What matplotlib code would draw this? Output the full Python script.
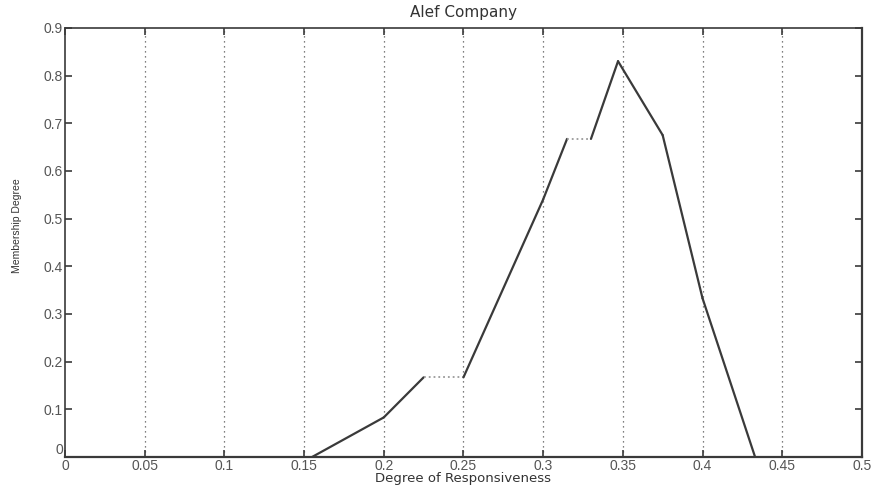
import matplotlib
matplotlib.use("Agg")
import matplotlib.pyplot as plt
import numpy as np

# membership function
x = [0.155, 0.2, 0.225, 0.25, 0.3, 0.315, 0.33, 0.347, 0.375, 0.4, 0.433]
y = [0.0, 0.083, 0.167, 0.167, 0.54, 0.667, 0.667, 0.83, 0.675, 0.333, 0.0]

xticks = [0, 0.05, 0.1, 0.15, 0.2, 0.25, 0.3, 0.35, 0.4, 0.45, 0.5]
xticklabels = ["0", "0.05", "0.1", "0.15", "0.2", "0.25", "0.3", "0.35", "0.4", "0.45", "0.5"]
yticks = [0, 0.1, 0.2, 0.3, 0.4, 0.5, 0.6, 0.7, 0.8, 0.9]
yticklabels = ["0", "0.1", "0.2", "0.3", "0.4", "0.5", "0.6", "0.7", "0.8", "0.9"]

plt.rcParams['font.family'] = ['Liberation Sans', 'DejaVu Sans']

fig = plt.figure(figsize=(8.75, 4.88), dpi=100)
ax = fig.add_axes([0.0743, 0.0635, 0.9107, 0.8795])

ink = "#3a3a3a"
# flat pieces are drawn dotted and lighter, the rest solid
for i in range(len(x) - 1):
    flat = y[i] == y[i + 1]
    ax.plot(x[i:i + 2], y[i:i + 2],
            color="#9a9a9a" if flat else ink,
            linestyle=":" if flat else "-",
            linewidth=1.3 if flat else 1.6,
            solid_capstyle="round")

ax.set_xlim(0, 0.5)
ax.set_ylim(0, 0.9)
ax.set_xticks(xticks)
ax.set_xticklabels(xticklabels)
ax.set_yticks(yticks)
ax.set_yticklabels(yticklabels)

for xv in xticks[1:-1]:
    ax.axvline(xv, color="#555555", linestyle=(0, (1, 3)), linewidth=0.9, zorder=0)

ax.tick_params(direction="in", length=5, width=1.2, colors=ink,
               top=True, right=True, labelsize=10, labelcolor="#555555", pad=1.5)
# keep the two "0" labels apart at the corner, like the original
ax.get_yticklabels()[0].set_va("bottom")

for s in ax.spines.values():
    s.set_color(ink)
    s.set_linewidth(1.2)
ax.spines["bottom"].set_linewidth(1.6)
ax.spines["right"].set_linewidth(1.6)

ax.set_title("Alef Company", fontsize=11, color="#333333", pad=8,
             family=['DejaVu Sans'])
ax.set_xlabel("Degree of Responsiveness", fontsize=9.5, color="#333333",
              family=['DejaVu Sans'])
ax.xaxis.set_label_coords(0.5, -0.036)
ax.set_ylabel("Membership Degree", fontsize=7.5, color="#333333")
ax.yaxis.set_label_coords(-0.054, 0.538)

fig.savefig("out.png", dpi=100)
